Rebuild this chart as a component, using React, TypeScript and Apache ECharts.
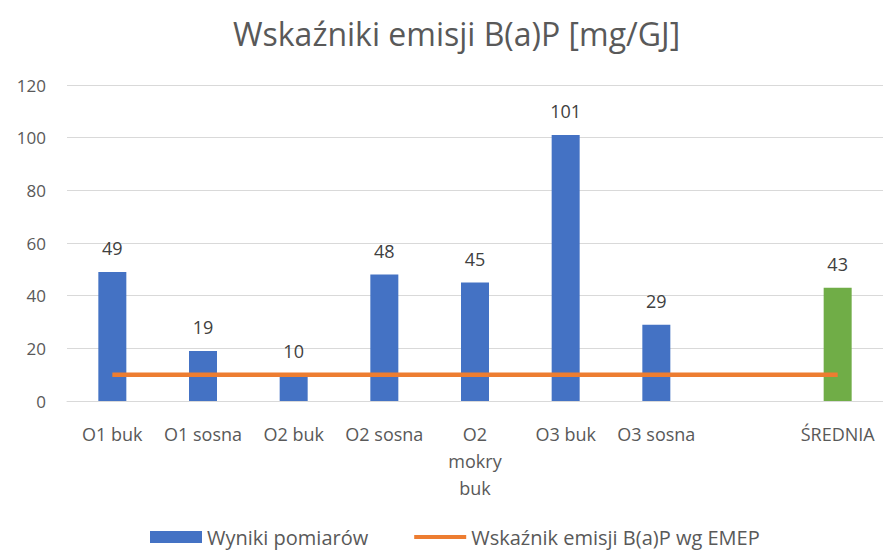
import React, { useEffect, useRef } from "react";
import * as echarts from "echarts";

const categories = ["O1 buk", "O1 sosna", "O2 buk", "O2 sosna", "O2 mokry buk", "O3 buk", "O3 sosna", "", "ŚREDNIA"];
const measured = [49, 19, 10, 48, 45, 101, 29, null, 43];
const emep = [10, 10, 10, 10, 10, 10, 10, 10, 10];
const yTicks = { min: 0, max: 120, interval: 20 };

const FONT = "'Open Sans', Lato, sans-serif";
const GREY = "#595959";

export default function App() {
  const ref = useRef<HTMLDivElement>(null);
  useEffect(() => {
    if (!ref.current) return;
    const chart = echarts.init(ref.current, null, { renderer: "svg" });
    chart.setOption({
      animation: false,
      backgroundColor: "#ffffff",
      textStyle: { fontFamily: FONT },
      title: {
        text: "Wskaźniki emisji B(a)P [mg/GJ]",
        left: 228,
        top: 12,
        textStyle: { fontFamily: FONT, fontSize: 32, fontWeight: "normal", color: GREY },
      },
      legend: {
        bottom: -2,
        left: 145,
        itemGap: 46,
        itemWidth: 52,
        itemHeight: 12,
        itemTextGap: 5,
        textStyle: { fontFamily: FONT, fontSize: 20, color: GREY },
        data: [
          { name: "Wyniki pomiarów", icon: "rect", itemStyle: { color: "#4472C4" } },
          { name: "Wskaźnik emisji B(a)P wg EMEP", icon: "path://M0,0 L52,0 L52,4 L0,4 Z" },
        ],
      },
      grid: { left: 67, right: 0, top: 85, bottom: 149, containLabel: false },
      xAxis: {
        type: "category",
        data: categories,
        axisLine: { lineStyle: { color: "#d9d9d9", width: 1 } },
        axisTick: { show: false },
        axisLabel: {
          interval: 0,
          margin: 19,
          fontFamily: FONT,
          fontSize: 18,
          color: GREY,
          lineHeight: 27,
          formatter: (v: string) => (v === "O2 mokry buk" ? "O2\nmokry\nbuk" : v),
        },
      },
      yAxis: {
        type: "value",
        min: yTicks.min,
        max: yTicks.max,
        interval: yTicks.interval,
        axisLine: { show: false },
        axisTick: { show: false },
        splitLine: { lineStyle: { color: "#d9d9d9", width: 1 } },
        axisLabel: { fontFamily: FONT, fontSize: 17, color: GREY, margin: 21 },
      },
      series: [
        {
          name: "Wyniki pomiarów",
          type: "bar",
          data: measured.map((v, i) =>
            v === null
              ? "-"
              : { value: v, itemStyle: { color: categories[i] === "ŚREDNIA" ? "#70AD47" : "#4472C4" } }
          ),
          barWidth: 28,
          itemStyle: { color: "#4472C4" },
          label: {
            show: true,
            position: "top",
            distance: 15,
            fontFamily: FONT,
            fontSize: 18,
            color: "#404040",
          },
        },
        {
          name: "Wskaźnik emisji B(a)P wg EMEP",
          type: "line",
          data: emep,
          symbol: "none",
          lineStyle: { color: "#ED7D31", width: 4.5 },
          itemStyle: { color: "#ED7D31" },
          z: 3,
        },
      ],
    });
    return () => chart.dispose();
  }, []);
  return <div ref={ref} style={{ width: 883, height: 550, position: "absolute", left: 0, top: 0 }} />;
}
